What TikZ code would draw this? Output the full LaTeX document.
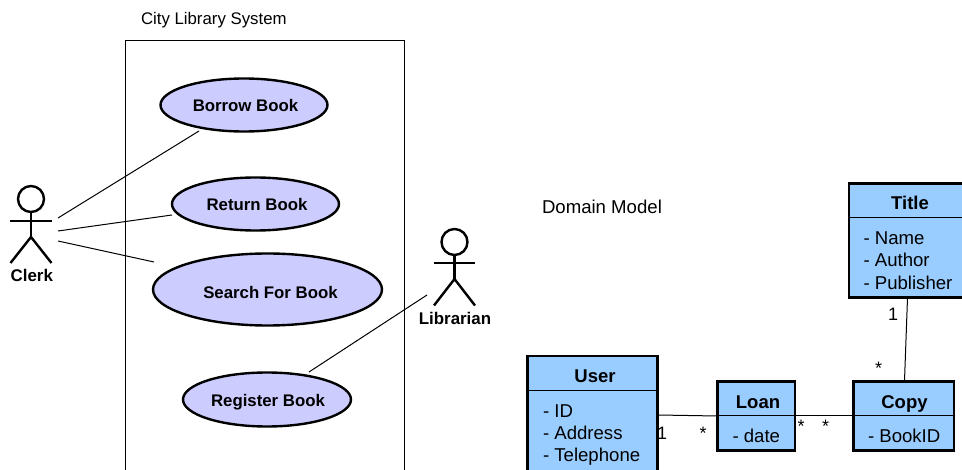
\documentclass[tikz,border=0pt]{standalone}
\usepackage{fontspec}
\setmainfont{Liberation Sans}
\usetikzlibrary{shapes.geometric}
\definecolor{ucfill}{HTML}{CCCCFF}
\definecolor{clsfill}{HTML}{99CCFF}
\newcommand{\fsz}[1]{\fontsize{#1}{#1}\selectfont}
\newcommand{\uct}[3]{\makebox[0pt][c]{\kern#1pt\raisebox{#2pt}[0pt][0pt]{#3}}}
\tikzset{
  usecase/.style={ellipse,draw=black,line width=2.4pt,fill=ucfill,inner sep=0pt,outer sep=0pt,font=\fsz{16.8}\bfseries},
  limb/.style={draw=black,line width=2.4pt},
  conn/.style={draw=black,line width=1pt},
  frame/.style={draw=black,line width=1pt},
  clsbox/.style={draw=black,line width=2.6pt,fill=clsfill},
  divider/.style={draw=black,line width=1pt},
  plain/.style={inner sep=0pt,outer sep=0pt,font=\fsz{16.8}},
  ctitle/.style={inner sep=0pt,outer sep=0pt,font=\fsz{18.5}\bfseries},
  attr/.style={inner sep=0pt,outer sep=0pt,anchor=base west,font=\fsz{18.6}},
  mult/.style={inner sep=0pt,outer sep=0pt,font=\fsz{18}},
  actorname/.style={inner sep=0pt,outer sep=0pt,font=\fsz{16.9}\bfseries},
}
\begin{document}
\begin{tikzpicture}[x=1pt,y=-1pt]
\useasboundingbox (0,0) rectangle (962,470);
\clip (0,0) rectangle (962,470);
\fill[white] (0,0) rectangle (962,470);
% system frame
\coordinate (fbl) at (125.5,480); \coordinate (ftl) at (125.5,41);
\coordinate (ftr) at (404.5,41); \coordinate (fbr) at (404.5,480);
\draw[frame] (fbl) -- (ftl) -- (ftr) -- (fbr);
\node[plain,anchor=base west] (systitle) at (141,24.8) {City Library System};
\node[plain,anchor=base west,font=\fsz{18.6}] (domtitle) at (542,213.8) {Domain Model};
% connectors
\coordinate (c1) at (58,218); \coordinate (c2) at (58,231); \coordinate (c3) at (58,241);
\coordinate (b1) at (199,131); \coordinate (r1) at (172,215); \coordinate (s1) at (154,262);
\coordinate (l1) at (427,295); \coordinate (g1) at (309,372);
\draw[conn] (c1) -- (b1);
\draw[conn] (c2) -- (r1);
\draw[conn] (c3) -- (s1);
\draw[conn] (l1) -- (g1);
% use cases
\node[usecase,minimum width=167pt,minimum height=53pt] (borrow) at (244,105) {\uct{3}{-6.8}{Borrow Book}};
\node[usecase,minimum width=167pt,minimum height=53pt] (return) at (255.5,204) {\uct{3}{-6.8}{Return Book}};
\node[usecase,minimum width=229pt,minimum height=72pt] (search) at (267.5,289.5) {\uct{6}{-9.3}{Search For Book}};
\node[usecase,minimum width=168pt,minimum height=54pt] (register) at (267,399.5) {\uct{2}{-6.5}{Register Book}};
% Clerk
\node[circle,draw=black,line width=2.4pt,minimum size=26pt,inner sep=0pt,outer sep=0pt] (chead) at (31,199) {};
\coordinate (chip) at (31,237);
\coordinate (cal) at (10,221); \coordinate (car) at (51.5,221);
\coordinate (cll) at (10.5,263); \coordinate (clr) at (51.5,263);
\draw[limb] (chead.south) -- (chip);
\draw[limb] (cal) -- (car);
\draw[limb] (cll) -- (chip) -- (clr);
\node[actorname,anchor=base] (clerk) at (31.8,282) {Clerk};
% Librarian
\node[circle,draw=black,line width=2.4pt,minimum size=26pt,inner sep=0pt,outer sep=0pt] (lhead) at (454.5,242) {};
\coordinate (lhip) at (454.5,279);
\coordinate (lal) at (434,263); \coordinate (lar) at (475,263);
\coordinate (lll) at (434,305.5); \coordinate (llr) at (475,305.5);
\draw[limb] (lhead.south) -- (lhip);
\draw[limb] (lal) -- (lar);
\draw[limb] (lll) -- (lhip) -- (llr);
\node[actorname,anchor=base] (librarian) at (455,324.8) {Librarian};
% class connectors
\coordinate (uc) at (658,415); \coordinate (lc) at (717,416);
\coordinate (lr) at (795,416); \coordinate (cl) at (853,416);
\coordinate (tb) at (907.5,298); \coordinate (ct) at (904.5,381);
\draw[conn] (uc) -- (lc);
\draw[conn] (lr) -- (cl);
\draw[conn] (tb) -- (ct);
% User
\draw[clsbox] (527.5,356) rectangle (657.5,480);
\coordinate (ud1) at (527.5,390.5); \coordinate (ud2) at (657.5,390.5);
\draw[divider] (ud1) -- (ud2);
\node[ctitle,anchor=base] (usert) at (595,382.7) {User};
\node[attr] (ua) at (543,417.8) {- ID};
\node[attr] (ub) at (543,439.5) {- Address};
\node[attr] (uc2) at (543,461.8) {- Telephone};
% Loan
\draw[clsbox] (717.5,381.5) rectangle (795,450.5);
\coordinate (ld1) at (717.5,416); \coordinate (ld2) at (795,416);
\draw[divider] (ld1) -- (ld2);
\node[ctitle,anchor=base] (loant) at (758,408.7) {Loan};
\node[attr] (la) at (732.5,442.5) {- date};
% Copy
\draw[clsbox] (853.5,381.5) rectangle (954,450.5);
\coordinate (cd1) at (853.5,416); \coordinate (cd2) at (954,416);
\draw[divider] (cd1) -- (cd2);
\node[ctitle,anchor=base] (copyt) at (904.5,408.7) {Copy};
\node[attr] (ca) at (868,442.5) {- BookID};
% Title
\draw[clsbox] (849,183.5) rectangle (975,297.5);
\coordinate (td1) at (849,217.5); \coordinate (td2) at (975,217.5);
\draw[divider] (td1) -- (td2);
\node[ctitle,anchor=base] (titlet) at (910,209.7) {Title};
\node[attr] (ta) at (863.5,244.8) {- Name};
\node[attr] (tb2) at (863.5,266.5) {- Author};
\node[attr] (tc) at (863.5,289.5) {- Publisher};
% multiplicities
\node[mult,anchor=base] (m1) at (662,439) {1};
\node[mult,anchor=base] (m2) at (703,439) {*};
\node[mult,anchor=base] (m3) at (801,433) {*};
\node[mult,anchor=base] (m4) at (825.5,433) {*};
\node[mult,anchor=base] (m5) at (878.5,375) {*};
\node[mult,anchor=base] (m6) at (893,321) {1};
\end{tikzpicture}
\end{document}
